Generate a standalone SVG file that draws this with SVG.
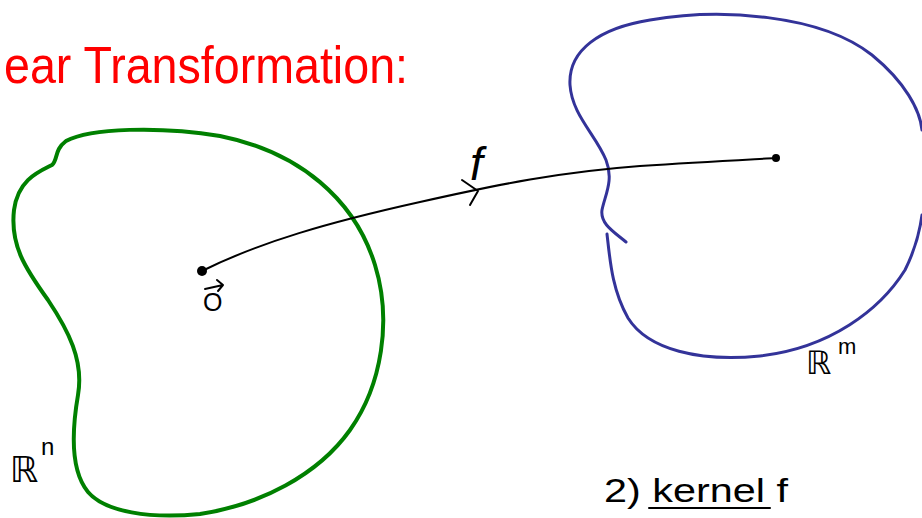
<svg xmlns="http://www.w3.org/2000/svg" width="922" height="518" viewBox="0 0 922 518">
<style>
.ink{fill:none;stroke:#000;stroke-width:2;stroke-linecap:round;stroke-linejoin:round}
.hand{font-family:"Liberation Sans","DejaVu Sans",sans-serif;fill:#000}
</style>
<rect width="922" height="518" fill="#fff"/>
<text x="4" y="83" font-family="Liberation Sans, sans-serif" font-size="52" fill="#f00" textLength="404" lengthAdjust="spacingAndGlyphs">ear Transformation:</text>
<g id="domain">
<path d="M66,141 C90,128 160,126 220,136 C300,152 355,200 375,265 C392,320 382,385 350,430 C318,475 260,505 200,514 C150,519 105,512 88,492 C70,470 72,430 78,395 C84,360 68,330 48,300 C25,268 10,245 14,210 C18,180 38,172 52,165 C58,160 54,150 66,141 Z" fill="none" stroke="#008000" stroke-width="4" stroke-linejoin="round"/>
<text class="hand" x="10" y="482" font-size="36" font-style="italic">ℝ</text>
<text class="hand" x="41" y="455" font-size="24">n</text>
</g>
<g id="codomain">
<path d="M626,242 C614,232 600,224 602,210 C605,195 614,180 606,160 C596,135 572,115 570,85 C568,50 600,28 650,20 C720,8 820,14 872,55 C905,82 920,110 922,130" fill="none" stroke="#333399" stroke-width="3" stroke-linecap="round"/>
<path d="M607,234 C610,260 612,290 628,318 C648,350 700,362 760,356 C830,348 880,310 905,270 C915,250 920,230 922,215" fill="none" stroke="#333399" stroke-width="3" stroke-linecap="round"/>
<text class="hand" x="806" y="374" font-size="32" font-style="italic">ℝ</text>
<text class="hand" x="838" y="354" font-size="22">m</text>
</g>
<g id="connectors">
<path class="ink" d="M202,271 C260,242 330,222 420,202 C500,184 560,172 640,166 C700,162 740,160 776,158"/>
<path class="ink" d="M462,180 L478,191 L470,205"/>
<circle cx="202" cy="271" r="5" fill="#000"/>
<circle cx="776" cy="158" r="4" fill="#000"/>
</g>
<g id="labels">
<text class="hand" x="470" y="180" font-size="46" font-style="italic">f</text>
<text class="hand" x="203" y="311" font-size="25">O</text>
<path class="ink" d="M205,289 L223,285 M217,280 L223,285 L218,291" stroke-width="1.8"/>
<text class="hand" x="604" y="502" font-size="34" textLength="184" lengthAdjust="spacingAndGlyphs">2) kernel f</text>
<path class="ink" d="M649,508 L770,508" stroke-width="1.8"/>
</g>
</svg>
